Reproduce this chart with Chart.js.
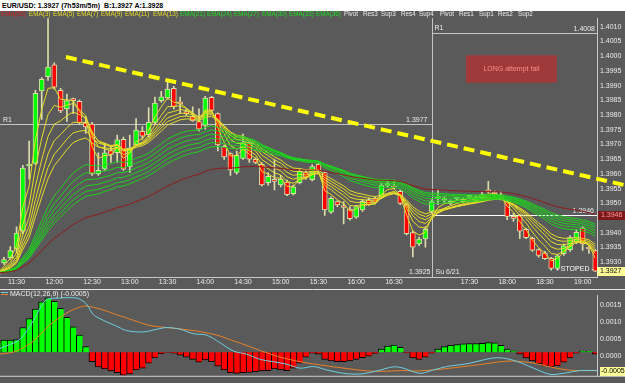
<!DOCTYPE html>
<html lang="en">
<head>
<meta charset="utf-8">
<title>EUR/USD 5m</title>
<script src="https://cdn.jsdelivr.net/npm/chart.js@4.4.1/dist/chart.umd.min.js"></script>
<style>
    html, body { margin: 0; padding: 0; }
    body { width: 625px; height: 383px; overflow: hidden; background: #5a5a5a; position: relative; }
    .title-bar {
        position: absolute; left: 0; top: 0; width: 625px; height: 11px;
        background: #fff; color: #000; box-sizing: border-box; padding-left: 2px;
        font: bold 7px "Liberation Sans", Arial, sans-serif; line-height: 11px; white-space: pre;
    }
    #priceChart { position: absolute; left: 0; top: 11px; }
    #macdChart { position: absolute; left: 0; top: 288px; }
</style>
</head>
<body>
<div class="title-bar">EUR/USD: 1.3927 (7h53m/5m)  B:1.3927 A:1.3928</div>
<canvas id="priceChart" width="625" height="277"></canvas>
<canvas id="macdChart" width="625" height="95"></canvas>
<script>
// EUR/USD 5 minute chart with EMA ribbon and MACD
const FONT = '"Liberation Sans", Arial, sans-serif';

// Bars (index 0 = 11:15)
const opens = [
    1.39259, 1.39298, 1.39316, 1.39345, 1.39406, 1.39627, 1.39636, 1.39882, 1.39930, 1.39971,
    1.39884, 1.39821, 1.39854, 1.39847, 1.39775, 1.39769, 1.39600, 1.39616, 1.39679, 1.39672,
    1.39718, 1.39625, 1.39699, 1.39745, 1.39733, 1.39775, 1.39849, 1.39858, 1.39891, 1.39843,
    1.39812, 1.39796, 1.39778, 1.39765, 1.39860, 1.39805, 1.39694, 1.39669, 1.39605, 1.39653,
    1.39705, 1.39650, 1.39633, 1.39570, 1.39581, 1.39563, 1.39572, 1.39533, 1.39570, 1.39605,
    1.39581, 1.39633, 1.39605, 1.39470, 1.39506, 1.39488, 1.39481, 1.39453, 1.39478, 1.39513,
    1.39516, 1.39521, 1.39561, 1.39559, 1.39541, 1.39496, 1.39401, 1.39362, 1.39379, 1.39473,
    1.39516, 1.39511, 1.39500, 1.39514, 1.39506, 1.39521, 1.39506, 1.39517, 1.39542, 1.39534,
    1.39529, 1.39506, 1.39456, 1.39459, 1.39412, 1.39381, 1.39343, 1.39332, 1.39313, 1.39279,
    1.39329, 1.39343, 1.39370, 1.39415, 1.39351, 1.39340
];
const highs = [
    1.39267, 1.39317, 1.39353, 1.39420, 1.39629, 1.39712, 1.39884, 1.39927, 1.40140, 1.39977,
    1.39891, 1.39871, 1.39858, 1.39851, 1.39795, 1.39775, 1.39672, 1.39705, 1.39695, 1.39732,
    1.39725, 1.39732, 1.39788, 1.39761, 1.39825, 1.39861, 1.39881, 1.39911, 1.39898, 1.39861,
    1.39821, 1.39828, 1.39821, 1.39864, 1.39864, 1.39808, 1.39698, 1.39672, 1.39678, 1.39735,
    1.39712, 1.39655, 1.39639, 1.39605, 1.39649, 1.39595, 1.39579, 1.39562, 1.39619, 1.39612,
    1.39632, 1.39639, 1.39609, 1.39522, 1.39509, 1.39506, 1.39489, 1.39493, 1.39512, 1.39519,
    1.39522, 1.39569, 1.39576, 1.39579, 1.39546, 1.39499, 1.39406, 1.39386, 1.39420, 1.39512,
    1.39546, 1.39522, 1.39512, 1.39519, 1.39519, 1.39526, 1.39526, 1.39539, 1.39575, 1.39542,
    1.39539, 1.39512, 1.39466, 1.39463, 1.39416, 1.39386, 1.39346, 1.39337, 1.39317, 1.39327,
    1.39363, 1.39390, 1.39410, 1.39420, 1.39356, 1.39343
];
const lows = [
    1.39254, 1.39293, 1.39310, 1.39333, 1.39396, 1.39582, 1.39632, 1.39785, 1.39918, 1.39888,
    1.39808, 1.39778, 1.39805, 1.39768, 1.39738, 1.39595, 1.39595, 1.39612, 1.39639, 1.39639,
    1.39612, 1.39605, 1.39695, 1.39718, 1.39725, 1.39768, 1.39844, 1.39854, 1.39821, 1.39805,
    1.39798, 1.39778, 1.39745, 1.39752, 1.39811, 1.39678, 1.39649, 1.39595, 1.39599, 1.39649,
    1.39639, 1.39635, 1.39559, 1.39562, 1.39546, 1.39556, 1.39526, 1.39529, 1.39566, 1.39582,
    1.39576, 1.39605, 1.39459, 1.39466, 1.39489, 1.39430, 1.39443, 1.39449, 1.39473, 1.39493,
    1.39498, 1.39516, 1.39556, 1.39549, 1.39496, 1.39393, 1.39318, 1.39356, 1.39351, 1.39466,
    1.39496, 1.39503, 1.39496, 1.39509, 1.39503, 1.39516, 1.39503, 1.39512, 1.39536, 1.39529,
    1.39512, 1.39445, 1.39439, 1.39380, 1.39380, 1.39337, 1.39317, 1.39310, 1.39273, 1.39273,
    1.39323, 1.39337, 1.39363, 1.39340, 1.39330, 1.39268
];
const closes = [
    1.39264, 1.39309, 1.39340, 1.39399, 1.39620, 1.39629, 1.39874, 1.39921, 1.39963, 1.39895,
    1.39814, 1.39849, 1.39849, 1.39774, 1.39760, 1.39600, 1.39612, 1.39672, 1.39666, 1.39716,
    1.39616, 1.39688, 1.39749, 1.39728, 1.39775, 1.39841, 1.39862, 1.39888, 1.39829, 1.39838,
    1.39805, 1.39780, 1.39752, 1.39858, 1.39816, 1.39699, 1.39658, 1.39614, 1.39663, 1.39707,
    1.39650, 1.39639, 1.39563, 1.39592, 1.39575, 1.39583, 1.39530, 1.39556, 1.39609, 1.39589,
    1.39625, 1.39611, 1.39478, 1.39517, 1.39495, 1.39486, 1.39448, 1.39489, 1.39507, 1.39496,
    1.39503, 1.39561, 1.39564, 1.39554, 1.39500, 1.39397, 1.39351, 1.39379, 1.39412, 1.39506,
    1.39517, 1.39512, 1.39508, 1.39516, 1.39515, 1.39522, 1.39522, 1.39532, 1.39539, 1.39532,
    1.39519, 1.39456, 1.39449, 1.39406, 1.39384, 1.39341, 1.39323, 1.39312, 1.39279, 1.39322,
    1.39356, 1.39384, 1.39402, 1.39362, 1.39345, 1.39270
];

// Axis ticks
const timeTickBars = [3, 9, 15, 21, 27, 33, 39, 45, 51, 57, 63, 75, 81, 87, 93];
const timeTickLabels = ['11:30', '12:00', '12:30', '13:00', '13:30', '14:00', '14:30', '15:00',
    '15:30', '16:00', '16:30', '17:30', '18:00', '18:30', '19:00'];
const priceTicks = [1.3930, 1.3935, 1.3940, 1.3945, 1.3950, 1.3955, 1.3960, 1.3965, 1.3970,
    1.3975, 1.3980, 1.3985, 1.3990, 1.3995, 1.4000, 1.4005, 1.4010];

// EMA periods
const fastPeriods = [3, 5, 7, 9, 11, 13];
const slowPeriods = [21, 24, 27, 30, 33, 36];
const trendPeriod = 55;
const pivotNames = ['Pivot', 'Res3', 'Sup3', 'Res4', 'Sup4', 'Pivot', 'Res1', 'Sup1', 'Res2', 'Sup2'];

// Levels and marks
const pivotPrevR1 = 1.3977;
const pivotR1 = 1.4008;
const pivotP = 1.3946;
const lastPrice = 1.3927;
const sessionBar = 69;
const sessionPrice = 1.3925;
const trendBars = [10.85, 99.7];
const trendPrices = [1.39997, 1.39562];
const noteBars = [74.45, 88.9];
const notePrices = [1.40003, 1.39910];
const stopBar = 91.8;
const stopPrice = 1.39277;

// MACD(12,26,9)
const macdHist = [
    0.0003, 0.00035, 0.00035, 0.00037, 0.00072, 0.00098, 0.00126, 0.00147, 0.00159, 0.00149,
    0.00128, 0.00102, 0.00074, 0.0005, 0.00016, -0.00028, -0.00043, -0.00049, -0.00055, -0.0006,
    -0.00067, -0.00064, -0.00052, -0.00047, -0.00032, -0.00017, -0.00005, -0.00001, -0.00003, -0.00009,
    -0.00015, -0.00021, -0.00029, -0.00023, -0.00028, -0.00041, -0.00052, -0.0006, -0.00062, -0.0006,
    -0.00059, -0.00057, -0.00055, -0.00054, -0.00049, -0.00052, -0.00054, -0.00047, -0.00032, -0.00015,
    -0.00003, -0.00006, -0.00021, -0.00026, -0.00028, -0.00028, -0.00026, -0.00021, -0.00016, -0.00012,
    -0.00004, 0.00009, 0.00018, 0.00021, 0.00014, -0.00002, -0.00017, -0.00021, -0.00015, -0.00003,
    0.00009, 0.00016, 0.0002, 0.00022, 0.00024, 0.00025, 0.00025, 0.00026, 0.00028, 0.00027,
    0.0002, 0.00009, 0.00003, -0.00006, -0.00017, -0.00026, -0.00034, -0.0004, -0.00043, -0.0004,
    -0.00029, -0.00017, -0.00003, 0.00003, 0.00003, -0.00006
];
const macdBars = [0.37, 3.5, 5.7, 6.7, 7.8, 9.6, 12.6, 14.1, 15.2, 16.8, 18.9, 20.5, 23.1, 25.3, 26.9,
    29, 31.1, 33.2, 35.3, 37.5, 39.6, 41.7, 43.8, 45.9, 48.1, 50.2, 52.3, 55, 57.6, 60.3, 62.9, 64.5,
    67.1, 69.3, 71.4, 74.6, 78.8, 80.9, 83, 85.2, 87.8, 89.9, 92.6, 95.3];
const macdValues = [0.00011, 0.00037, 0.00093, 0.00128, 0.00154, 0.00158, 0.00158, 0.00141, 0.0011,
    0.00093, 0.00076, 0.00063, 0.00059, 0.00067, 0.00072, 0.00067, 0.00054, 0.0005, 0.00028, 0.00003,
    -0.00006, -0.00021, -0.00028, -0.00035, -0.00047, -0.00042, -0.00052, -0.00062, -0.00064, -0.00055,
    -0.00043, -0.00047, -0.00062, -0.00052, -0.00042, -0.00034, -0.00017, -0.00019, -0.0003, -0.00047,
    -0.00065, -0.00062, -0.00054, -0.00054];
const signalBars = [0.37, 3, 5.7, 8.3, 11, 13.1, 14.1, 16.3, 18.9, 21.6, 24.2, 26.9, 29.5, 32.2, 34.8,
    37.5, 40.1, 42.8, 45.4, 48.1, 50.7, 53.4, 56, 58.7, 61.3, 64, 66.6, 69.3, 71.9, 74.6, 77.2, 79.9,
    82, 85.2, 87.8, 90.5, 93.1, 95.3];
const signalValues = [-0.00006, 0.00003, 0.00033, 0.0008, 0.00115, 0.00132, 0.00135, 0.00126, 0.0011,
    0.00093, 0.00078, 0.00072, 0.00067, 0.0006, 0.0005, 0.00033, 0.00016, -0.00002, -0.00017, -0.00028,
    -0.00036, -0.00043, -0.00049, -0.00055, -0.00056, -0.00054, -0.00055, -0.00052, -0.00047, -0.00041,
    -0.00035, -0.00028, -0.00026, -0.00032, -0.00043, -0.00052, -0.00054, -0.00054];
const macdTicks = [0, 0.0005, 0.0010, 0.0015];
const macdLast = -0.00054;

// Colors
const BG = '#5a5a5a';
const YELLOW = '#e6dc2a';
const GREEN = '#1fd21f';
const BROWN = '#8e1c1c';
const TEXT = '#ececec';

// Visible window in bar units
const X_MIN = 0.366;
const X_MAX = 95.28;

// EMA of closes, as named in the legend
function emaSeries(values, period) {
    const a = 2 / (period + 1);
    const out = [];
    values.forEach((v, i) => out.push(i === 0 ? v : out[i - 1] + a * (v - out[i - 1])));
    return out;
}

function emaDataset(period, color) {
    return {
        type: 'line',
        data: emaSeries(closes, period).map((v, i) => ({ x: i, y: v })),
        borderColor: color,
        borderWidth: 1,
        pointRadius: 0,
        order: 1
    };
}

function strokeLine(ctx, x1, y1, x2, y2) {
    ctx.beginPath();
    ctx.moveTo(x1, y1);
    ctx.lineTo(x2, y2);
    ctx.stroke();
}

function valueBox(ctx, left, yc, text, fill, color, pad) {
    ctx.fillStyle = fill;
    ctx.fillRect(left, Math.round(yc) - 4, 625 - left, 9);
    ctx.fillStyle = color;
    ctx.textAlign = 'left';
    ctx.textBaseline = 'middle';
    ctx.fillText(text, left + pad, Math.round(yc) + 0.5);
}

// Price panel decorations
const priceDecor = {
    id: 'priceDecor',
    beforeDraw(chart) {
        const { ctx, width, height } = chart;
        ctx.save();
        ctx.fillStyle = BG;
        ctx.fillRect(0, 0, width, height);
        ctx.restore();
    },
    beforeDatasetsDraw(chart) {
        const { ctx, chartArea: area, scales: { x, y } } = chart;
        const sx = Math.round(x.getPixelForValue(sessionBar)) + 0.5;
        const yPrev = Math.round(y.getPixelForValue(pivotPrevR1)) + 0.5;
        const yR1 = Math.round(y.getPixelForValue(pivotR1)) + 0.5;
        const yP = Math.round(y.getPixelForValue(pivotP)) + 0.5;

        ctx.save();
        ctx.lineWidth = 1;
        ctx.strokeStyle = '#c4c4c4';
        strokeLine(ctx, sx, area.top, sx, area.bottom);
        strokeLine(ctx, area.left, yPrev, sx, yPrev);
        strokeLine(ctx, sx, yR1, area.right, yR1);
        ctx.strokeStyle = '#ffffff';
        strokeLine(ctx, sx, yP, area.right, yP);

        ctx.font = `7px ${FONT}`;
        ctx.fillStyle = TEXT;
        ctx.textBaseline = 'bottom';
        ctx.textAlign = 'left';
        ctx.fillText('R1', area.left + 3, yPrev - 1);
        ctx.fillText('R1', sx + 2, yR1 - 2);
        ctx.textAlign = 'right';
        ctx.fillText(pivotPrevR1.toFixed(4), sx - 5, yPrev - 1);
        ctx.fillText(pivotR1.toFixed(4), area.right - 2, yR1 - 1);
        ctx.fillText(pivotP.toFixed(4), area.right - 3, yP - 1);

        // session marker label
        ctx.fillText(sessionPrice.toFixed(4), sx - 2, area.bottom - 1);
        ctx.textAlign = 'left';
        ctx.fillText('Su 6/21', sx + 3, area.bottom - 1);
        ctx.restore();
    },
    afterDatasetsDraw(chart) {
        const { ctx, scales: { x, y } } = chart;
        ctx.save();

        // trend line
        ctx.strokeStyle = '#ffff00';
        ctx.lineWidth = 4;
        ctx.setLineDash([11, 6]);
        strokeLine(ctx, x.getPixelForValue(trendBars[0]), y.getPixelForValue(trendPrices[0]),
            x.getPixelForValue(trendBars[1]), y.getPixelForValue(trendPrices[1]));
        ctx.setLineDash([]);

        // note box
        const nx1 = x.getPixelForValue(noteBars[0]);
        const nx2 = x.getPixelForValue(noteBars[1]);
        const ny1 = y.getPixelForValue(notePrices[0]);
        const ny2 = y.getPixelForValue(notePrices[1]);
        ctx.fillStyle = '#a03a3a';
        ctx.fillRect(nx1, ny1, nx2 - nx1, ny2 - ny1);
        ctx.font = `7px ${FONT}`;
        ctx.fillStyle = '#ff8c8c';
        ctx.textAlign = 'center';
        ctx.textBaseline = 'middle';
        ctx.fillText('LONG attempt fail', (nx1 + nx2) / 2, (ny1 + ny2) / 2);

        // stop mark
        ctx.fillStyle = '#ffffff';
        ctx.fillText('- STOPED -', x.getPixelForValue(stopBar), y.getPixelForValue(stopPrice));
        ctx.restore();
    },
    afterDraw(chart) {
        const { ctx, chartArea: area, scales: { y } } = chart;
        ctx.save();
        ctx.font = `7px ${FONT}`;
        valueBox(ctx, area.right + 1, y.getPixelForValue(pivotP), pivotP.toFixed(4), '#7a1a1a', '#ff9a9a', 3);
        valueBox(ctx, area.right, y.getPixelForValue(lastPrice), lastPrice.toFixed(4), '#ffff99', '#000000', 3);

        // legend row
        const names = [`EMA(${trendPeriod})`, ...fastPeriods.map(p => `EMA(${p})`),
            ...slowPeriods.map(p => `EMA(${p})`), ...pivotNames];
        const xs = [1, 29, 53, 77, 101, 125, 153, 180, 207, 234, 262, 289, 316,
            344, 363, 381, 401, 419, 440, 459, 479, 498, 518];
        ctx.font = `6.3px ${FONT}`;
        ctx.textAlign = 'left';
        ctx.textBaseline = 'middle';
        names.forEach((name, i) => {
            ctx.fillStyle = i === 0 ? '#c42020' : i <= 6 ? YELLOW : i <= 12 ? '#22d822' : TEXT;
            ctx.fillText(name, xs[i], 3.5);
        });
        ctx.restore();
    }
};

// MACD panel decorations
const macdDecor = {
    id: 'macdDecor',
    beforeDraw(chart) {
        const { ctx, width, height } = chart;
        ctx.save();
        ctx.fillStyle = BG;
        ctx.fillRect(0, 0, width, height);
        ctx.restore();
    },
    afterDraw(chart) {
        const { ctx, chartArea: area, scales: { y } } = chart;
        ctx.save();
        ctx.lineWidth = 1;
        ctx.strokeStyle = '#e4e4e4';
        strokeLine(ctx, 0, 1.5, chart.width, 1.5);
        ctx.strokeStyle = '#cfcfcf';
        strokeLine(ctx, 0, area.bottom + 0.5, chart.width, area.bottom + 0.5);

        ctx.strokeStyle = '#6fcfe0';
        strokeLine(ctx, 1, 4.5, 8, 4.5);
        ctx.strokeStyle = '#e8822a';
        strokeLine(ctx, 1, 6.5, 8, 6.5);
        ctx.font = `7px ${FONT}`;
        ctx.fillStyle = TEXT;
        ctx.textAlign = 'left';
        ctx.textBaseline = 'middle';
        ctx.fillText(`MACD(12,26,9) (${macdLast.toFixed(4)})`, 10, 6);

        valueBox(ctx, area.right + 3, y.getPixelForValue(macdLast), macdLast.toFixed(4), '#ffff99', '#000000', 1);
        ctx.restore();
    }
};

// Initialize Price Chart
const bars = closes.map((c, i) => i);
const isUp = i => closes[i] >= opens[i];

new Chart(document.getElementById('priceChart'), {
    type: 'bar',
    data: {
        datasets: [
            emaDataset(trendPeriod, BROWN),
            ...slowPeriods.map(p => emaDataset(p, GREEN)),
            ...fastPeriods.map(p => emaDataset(p, YELLOW)),
            {
                label: 'wicks',
                data: bars.map(i => ({ x: i, y: [lows[i], highs[i]] })),
                backgroundColor: '#dcdcaa',
                barThickness: 1,
                grouped: false,
                order: 20
            },
            {
                label: 'bodies',
                data: bars.map(i => ({ x: i, y: [opens[i], closes[i]] })),
                backgroundColor: ctx => isUp(ctx.dataIndex) ? '#00ff00' : '#ff0000',
                borderColor: '#dcdcaa',
                borderWidth: 1,
                borderSkipped: false,
                barThickness: 5,
                minBarLength: 2,
                grouped: false,
                order: 19
            }
        ]
    },
    options: {
        responsive: false,
        devicePixelRatio: 1,
        animation: false,
        events: [],
        layout: { padding: { left: 0, right: 0, top: 1, bottom: 0 } },
        plugins: { legend: { display: false }, tooltip: { enabled: false } },
        scales: {
            x: {
                type: 'linear',
                min: X_MIN,
                max: X_MAX,
                offset: false,
                grid: { display: false, drawTicks: false },
                border: { display: true, color: '#c8c8c8' },
                afterBuildTicks: scale => { scale.ticks = timeTickBars.map(v => ({ value: v })); },
                afterFit: scale => { scale.height = 11; },
                ticks: {
                    color: TEXT,
                    font: { size: 7, family: FONT },
                    padding: 1,
                    maxRotation: 0,
                    autoSkip: false,
                    callback: v => timeTickLabels[timeTickBars.indexOf(v)]
                }
            },
            y: {
                type: 'linear',
                position: 'right',
                min: 1.39250,
                max: 1.40129,
                beginAtZero: false,
                grid: { display: false, drawTicks: false },
                border: { display: true, color: '#c8c8c8' },
                afterBuildTicks: scale => { scale.ticks = priceTicks.map(v => ({ value: v })); },
                afterFit: scale => { scale.width = 28; },
                ticks: {
                    color: TEXT,
                    font: { size: 7, family: FONT },
                    padding: 3,
                    callback: v => v.toFixed(4)
                }
            }
        }
    },
    plugins: [priceDecor]
});

// Initialize MACD Chart
new Chart(document.getElementById('macdChart'), {
    type: 'bar',
    data: {
        datasets: [
            {
                type: 'line',
                data: macdBars.map((b, i) => ({ x: b, y: macdValues[i] })),
                borderColor: '#6fcfe0',
                borderWidth: 1,
                pointRadius: 0,
                tension: 0.3,
                order: 1
            },
            {
                type: 'line',
                data: signalBars.map((b, i) => ({ x: b, y: signalValues[i] })),
                borderColor: '#e8822a',
                borderWidth: 1,
                pointRadius: 0,
                tension: 0.3,
                order: 2
            },
            {
                label: 'histogram',
                data: macdHist.map((v, i) => ({ x: i, y: v })),
                backgroundColor: ctx => macdHist[ctx.dataIndex] >= 0 ? '#00ff00' : '#ff0000',
                borderColor: '#000000',
                borderWidth: { left: 1, right: 0, top: 1, bottom: 1 },
                barPercentage: 1,
                categoryPercentage: 1,
                order: 5
            }
        ]
    },
    options: {
        responsive: false,
        devicePixelRatio: 1,
        animation: false,
        events: [],
        layout: { padding: { left: 0, right: 0, top: 2, bottom: 2 } },
        plugins: { legend: { display: false }, tooltip: { enabled: false } },
        scales: {
            x: { type: 'linear', min: X_MIN, max: X_MAX, offset: false, display: false },
            y: {
                type: 'linear',
                position: 'right',
                min: -0.000692,
                max: 0.001666,
                beginAtZero: false,
                grid: { display: false, drawTicks: false },
                border: { display: true, color: '#c8c8c8' },
                afterBuildTicks: scale => { scale.ticks = macdTicks.map(v => ({ value: v })); },
                afterFit: scale => { scale.width = 28; },
                ticks: {
                    color: TEXT,
                    font: { size: 7, family: FONT },
                    padding: 3,
                    labelOffset: 4,
                    callback: v => v.toFixed(4)
                }
            }
        }
    },
    plugins: [macdDecor]
});
</script>
</body>
</html>
